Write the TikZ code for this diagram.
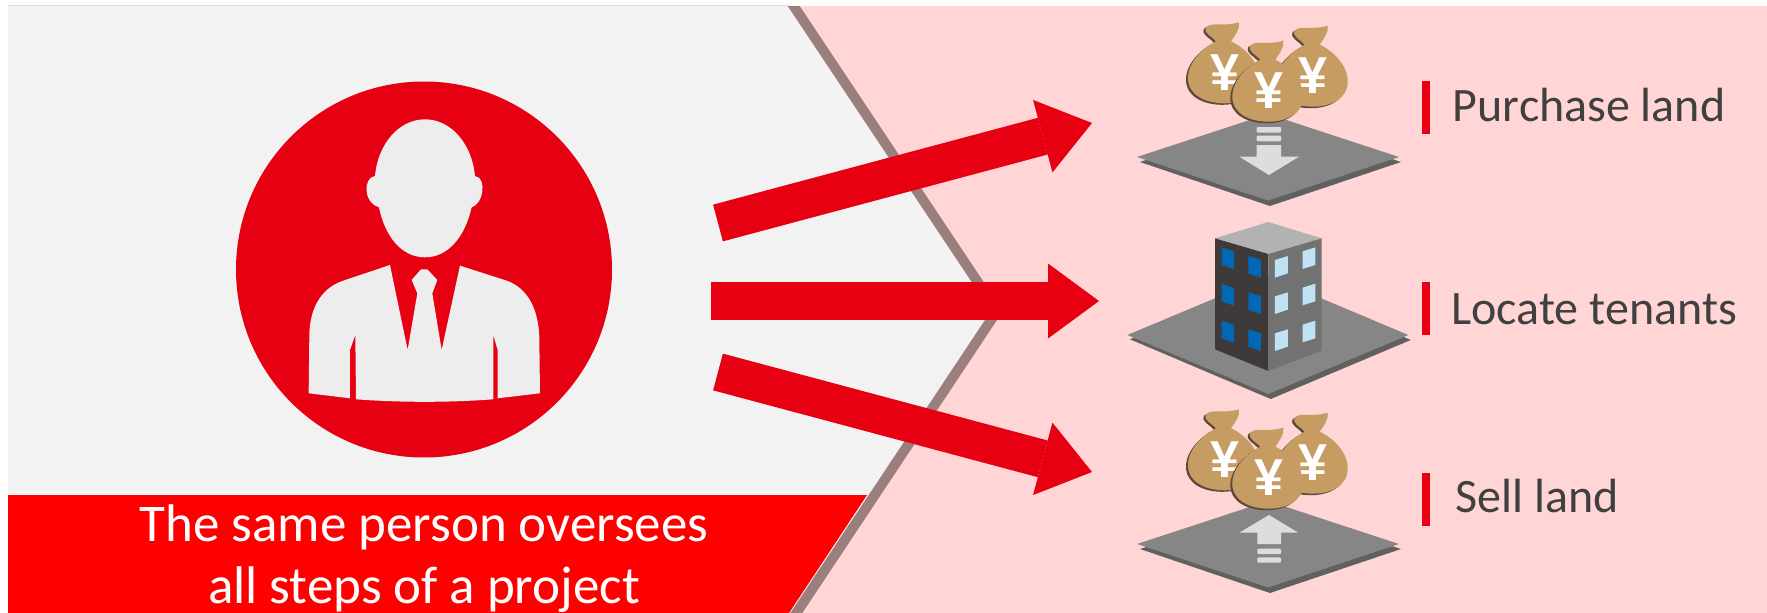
\documentclass[tikz,border=0pt]{standalone}
\usepackage{fontspec}
\setmainfont{Carlito}
\newfontfamily\yenfont[Scale=1]{Liberation Sans}
\usetikzlibrary{positioning, arrows.meta}
\definecolor{redColor}{RGB}{230, 0, 18}
\definecolor{pinkColor}{RGB}{255, 213, 213}
\definecolor{panelColor}{RGB}{242, 242, 242}
\definecolor{dividerColor}{RGB}{155, 127, 127}
\definecolor{suitColor}{RGB}{237, 237, 237}
\definecolor{bagColor}{RGB}{198, 156, 99}
\definecolor{bagShadow}{RGB}{92, 74, 53}
\definecolor{plateColor}{RGB}{134, 134, 134}
\definecolor{plateShadow}{RGB}{96, 96, 96}
\definecolor{markColor}{RGB}{220, 222, 221}
\definecolor{textColor}{RGB}{64, 64, 64}
\definecolor{roofColor}{RGB}{178, 178, 178}
\definecolor{wallDark}{RGB}{62, 58, 57}
\definecolor{wallLight}{RGB}{114, 114, 114}
\definecolor{windowDark}{RGB}{0, 104, 183}
\definecolor{windowLight}{RGB}{191, 227, 245}
\newcommand{\bagoutline}{(-18,-76) .. controls (-12,-82) and (-2,-76) .. (15,-81) .. controls (16,-74) and (11,-68) .. (7,-62) .. controls (20,-56) and (35,-42) .. (35,-25) .. controls (35,-8) and (18,0) .. (0,0) .. controls (-18,0) and (-36,-8) .. (-36,-25) .. controls (-36,-42) and (-20,-56) .. (-8,-62) .. controls (-12,-67) and (-21,-70) .. (-18,-76) -- cycle}
\tikzset{
    moneybag/.pic={
        \fill[bagShadow, shift={(-2,1.5)}] \bagoutline;
        \fill[bagColor] \bagoutline;
        \node[text=white, inner sep=0pt, font=\yenfont\bfseries\fontsize{52}{52}\selectfont] (yen) at (0.5,-31) {¥};
    },
    bagtrio/.pic={
        \pic (left) at (-44.3,-18.4) {moneybag};
        \pic (right) at (44.4,-15) {moneybag};
        \pic (front) at (0,0) {moneybag};
    },
    plate/.pic={
        \fill[plateShadow] (-128,5) -- (2,-38) -- (133,5) -- (2,49) -- cycle;
        \fill[plateColor] (-131,0) -- (0,-43) -- (131,0) -- (0,43.5) -- cycle;
    }
}
\begin{document}
\begin{tikzpicture}[
    x=1pt,
    y=-1pt,
    node distance=23pt,
    flecha/.style={
        -{Triangle[length=51pt,width=75pt,line width=0pt]},
        line width=38pt,
        draw=redColor
    },
    marca/.style={
        fill=redColor,
        minimum width=8pt,
        minimum height=53pt,
        inner sep=0pt
    },
    etiqueta/.style={
        text=textColor,
        inner sep=0pt,
        font=\fontsize{48}{50}\selectfont
    },
    barra/.style={
        fill=markColor,
        rounded corners=1pt
    }
]
\useasboundingbox (0,0) rectangle (1767,613);

% background
\fill[white] (0,0) rectangle (1767,613);
\begin{scope}
\clip (8,6) rectangle (1767,613);
\fill[pinkColor] (8,6) rectangle (1767,613);
\draw[fill=panelColor, draw=dividerColor, line width=10pt] (-20,-10) -- (783,-10) -- (997,311) -- (785,630) -- (-20,630) -- cycle;
\fill[red] (8,495) -- (867,495) -- (789,613) -- (8,613) -- cycle;
\end{scope}
\draw[black!12, line width=1pt] (8,5.5) -- (789,5.5);

% person
\node[circle, fill=redColor, minimum size=376pt, inner sep=0pt] (person) at (424,269.5) {};
\begin{scope}[shift={(220,70)}, scale=0.3333]
\fill[suitColor] (615,148) .. controls (695,148) and (757,225) .. (765,318) .. controls (785,320) and (790,345) .. (787,365) .. controls (783,390) and (770,408) .. (755,412) .. controls (735,500) and (685,562) .. (615,562) .. controls (545,562) and (495,500) .. (477,412) .. controls (460,408) and (443,390) .. (440,365) .. controls (437,345) and (445,320) .. (465,318) .. controls (473,225) and (535,148) .. (615,148) -- cycle;
\fill[suitColor] (510,585) -- (370,632) .. controls (300,655) and (268,720) .. (268,800) -- (266,970) -- (390,985) -- (390,840) -- (406,795) -- (408,988) .. controls (540,998) and (690,998) .. (820,988) -- (820,795) -- (833,840) -- (833,985) -- (960,970) -- (958,800) .. controls (955,720) and (925,655) .. (860,632) -- (720,587) -- (665,840) -- (637,670) -- (652,630) -- (622,598) -- (603,598) -- (575,630) -- (592,670) -- (563,840) -- cycle;
\end{scope}

% caption
\node[text=white, align=center, inner sep=0pt, font=\fontsize{53}{62}\selectfont, anchor=base] (caption) at (424,603) {The same person oversees\\all steps of a project};

% upper icon
\pic (plateA) at (1268,157) {plate};
\fill[markColor] (1239.3,156.7) -- (1256.7,156.7) -- (1256.7,145) -- (1281,145) -- (1281,156.7) -- (1299,156.7) -- (1269,175) -- cycle;
\fill[barra] (1256.7,127) rectangle (1281,132.7);
\fill[barra] (1256.7,135.7) rectangle (1281,141.3);
\pic (bagsA) at (1268.3,121.7) {bagtrio};

% middle icon
\fill[plateShadow] (1130,339.3) -- (1270.7,280) -- (1410.7,340) -- (1270.7,399) -- cycle;
\fill[plateColor] (1127.3,335) -- (1268.3,276) -- (1408.3,335) -- (1268.3,394) -- cycle;
\begin{scope}[shift={(1100,210)}, scale=0.3333]
\fill[roofColor] (345,85) -- (505,36) -- (665,85) -- (505,132) -- cycle;
\fill[wallDark] (345,85) -- (505,132) -- (505,483) -- (345,418) -- cycle;
\fill[wallLight] (505,132) -- (665,85) -- (665,422) -- (505,483) -- cycle;
\foreach \fila in {0,109,220} {
    \fill[windowDark, shift={(0,\fila)}] (365,112) -- (402,125) -- (402,178) -- (365,165) -- cycle;
    \fill[windowDark, shift={(0,\fila)}] (445,138) -- (483,150) -- (483,203) -- (445,190) -- cycle;
    \fill[windowLight, shift={(0,\fila)}] (525,150) -- (564,138) -- (564,190) -- (525,203) -- cycle;
    \fill[windowLight, shift={(0,\fila)}] (608,124) -- (646,112) -- (646,165) -- (608,177) -- cycle;
}
\end{scope}

% lower icon
\pic (plateC) at (1268,544) {plate};
\fill[markColor] (1269,515) -- (1298.3,532.7) -- (1281,532.7) -- (1281,544) -- (1257.3,544) -- (1257.3,532.7) -- (1239.3,532.7) -- cycle;
\fill[barra] (1257.3,548.7) rectangle (1281,554);
\fill[barra] (1257.3,557.3) rectangle (1281,562.7);
\pic (bagsC) at (1268.3,508.7) {bagtrio};

% arrows
\coordinate (fromA) at (718,223);
\coordinate (toA) at (1092,123);
\coordinate (fromB) at (711,301);
\coordinate (toB) at (1099,301);
\coordinate (fromC) at (718,372);
\coordinate (toC) at (1092,472);
\draw[flecha] (fromA) -- (toA);
\draw[flecha] (fromB) -- (toB);
\draw[flecha] (fromC) -- (toC);

% labels
\node[marca] (barA) at (1426,107.5) {};
\node[marca] (barB) at (1426,308.5) {};
\node[marca] (barC) at (1426,499) {};
\node[etiqueta, right=22.5pt of barA, yshift=2pt] (purchase) {Purchase land};
\node[etiqueta, right=21pt of barB, yshift=-1pt] (locate) {Locate tenants};
\node[etiqueta, right=25.5pt of barC, yshift=3pt] (sell) {Sell land};

\end{tikzpicture}
\end{document}
